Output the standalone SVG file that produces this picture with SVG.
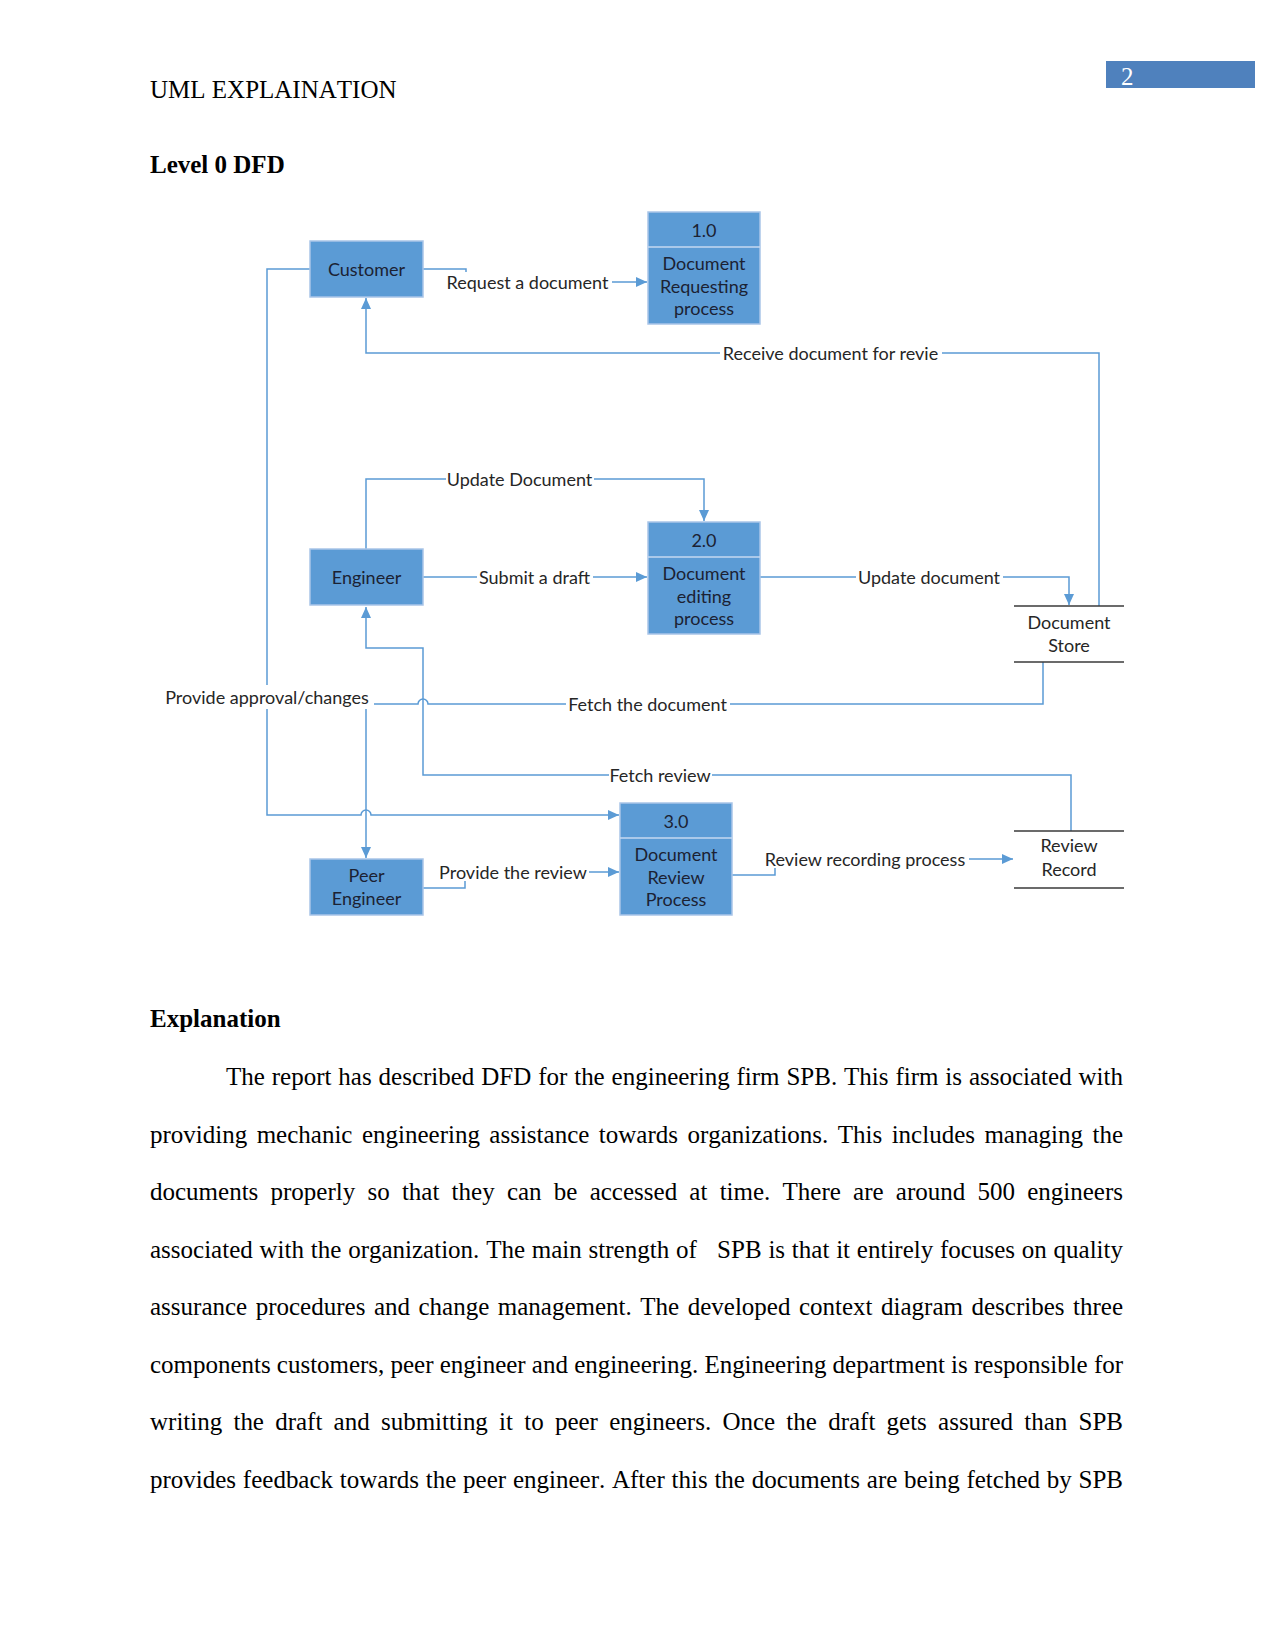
<svg xmlns="http://www.w3.org/2000/svg" width="1275" height="1650" viewBox="0 0 1275 1650">
<style>
.doc{font-family:"Liberation Serif","Times New Roman",serif;font-size:25px;fill:#000;font-kerning:none}
.b{font-weight:bold}
.ent{fill:#5b9bd5;stroke:#a9c5e8;stroke-width:1.5}
.div{stroke:#c5d9f0;stroke-width:1.5}
.bt{font-family:Lato,"Liberation Sans",sans-serif;font-size:18px;fill:#1b2233;text-anchor:middle}
.lbl{font-family:Lato,"Liberation Sans",sans-serif;font-size:18px;fill:#262626;text-anchor:middle}
.con{fill:none;stroke:#5b9bd5;stroke-width:1.5}
.bg{fill:#fff}
.store{stroke:#3a3a3a;stroke-width:1.5}
</style>
<defs>
<marker id="arr" markerUnits="userSpaceOnUse" markerWidth="12" markerHeight="11" refX="11" refY="5" orient="auto">
<path d="M0,0 L11,5 L0,10 z" fill="#5b9bd5"/>
</marker>
</defs>
<rect width="1275" height="1650" fill="#fff"/>

<!-- header -->
<rect x="1106" y="61" width="149" height="27" fill="#4f81bd"/>
<text class="doc" x="1121" y="85" style="fill:#fff">2</text>
<text class="doc" x="150" y="98">UML EXPLAINATION</text>
<text class="doc b" x="150" y="173">Level 0 DFD</text>

<!-- connectors -->
<g id="connectors">
<path class="con" d="M423,269 H466 V282 H647" marker-end="url(#arr)"/>
<path class="con" d="M1099,606 V353 H366 V298" marker-end="url(#arr)"/>
<path class="con" d="M366,549 V479 H704 V521" marker-end="url(#arr)"/>
<path class="con" d="M423,577 H647" marker-end="url(#arr)"/>
<path class="con" d="M760,577 H1069 V605" marker-end="url(#arr)"/>
<path class="con" d="M1043,662 V704 H428 A5,5 0 0 0 418,704 H366 V858" marker-end="url(#arr)"/>
<path class="con" d="M1071,831 V775 H423 V648 H366 V607" marker-end="url(#arr)"/>
<path class="con" d="M310,269 H267 V815 H361 A5,5 0 0 1 371,815 H619" marker-end="url(#arr)"/>
<path class="con" d="M423,888 H465 V872 H619" marker-end="url(#arr)"/>
<path class="con" d="M732,875 H775 V859 H1013" marker-end="url(#arr)"/>

<rect class="bg" x="444" y="272" width="168" height="19"/>
<text class="lbl" x="527.5" y="288.5">Request a document</text>
<rect class="bg" x="720" y="343" width="222" height="19"/>
<text class="lbl" x="830.5" y="359.5">Receive document for revie</text>
<rect class="bg" x="446" y="469" width="148" height="19"/>
<text class="lbl" x="519.5" y="485.5">Update Document</text>
<rect class="bg" x="477" y="567" width="116" height="19"/>
<text class="lbl" x="534.5" y="583.5">Submit a draft</text>
<rect class="bg" x="856" y="567" width="147" height="19"/>
<text class="lbl" x="929" y="583.5">Update document</text>
<rect class="bg" x="160" y="685" width="214" height="24"/>
<text class="lbl" x="267" y="703.5">Provide approval/changes</text>
<rect class="bg" x="566" y="694" width="164" height="19"/>
<text class="lbl" x="647.5" y="710.5">Fetch the document</text>
<rect class="bg" x="609" y="765" width="103" height="19"/>
<text class="lbl" x="660" y="781.5">Fetch review</text>
<rect class="bg" x="438" y="862" width="151" height="19"/>
<text class="lbl" x="513" y="878.5">Provide the review</text>
<rect class="bg" x="762" y="849" width="207" height="19"/>
<text class="lbl" x="865" y="865.5">Review recording process</text>
</g>

<!-- entities -->
<g id="customer">
<rect class="ent" x="310" y="241" width="113" height="56"/>
<text class="bt" x="366.5" y="275.5">Customer</text>
</g>
<g id="engineer">
<rect class="ent" x="310" y="549" width="113" height="56"/>
<text class="bt" x="366.5" y="583.5">Engineer</text>
</g>
<g id="peer-engineer">
<rect class="ent" x="310" y="859" width="113" height="56"/>
<text class="bt" x="366.5" y="881.5">Peer</text>
<text class="bt" x="366.5" y="904.5">Engineer</text>
</g>

<!-- processes -->
<g id="p1">
<rect class="ent" x="648" y="212" width="112" height="112"/>
<line class="div" x1="648" y1="247" x2="760" y2="247"/>
<text class="bt" x="704" y="236.5">1.0</text>
<text class="bt" x="704" y="269.5">Document</text>
<text class="bt" x="704" y="292.5">Requesting</text>
<text class="bt" x="704" y="314.5">process</text>
</g>
<g id="p2">
<rect class="ent" x="648" y="522" width="112" height="112"/>
<line class="div" x1="648" y1="557" x2="760" y2="557"/>
<text class="bt" x="704" y="546.5">2.0</text>
<text class="bt" x="704" y="579.5">Document</text>
<text class="bt" x="704" y="602.5">editing</text>
<text class="bt" x="704" y="624.5">process</text>
</g>
<g id="p3">
<rect class="ent" x="620" y="803" width="112" height="112"/>
<line class="div" x1="620" y1="838" x2="732" y2="838"/>
<text class="bt" x="676" y="827.5">3.0</text>
<text class="bt" x="676" y="860.5">Document</text>
<text class="bt" x="676" y="883.5">Review</text>
<text class="bt" x="676" y="905.5">Process</text>
</g>

<!-- data stores -->
<g id="document-store">
<line class="store" x1="1014" y1="606" x2="1124" y2="606"/>
<line class="store" x1="1014" y1="662" x2="1124" y2="662"/>
<text class="lbl" x="1069" y="628.5">Document</text>
<text class="lbl" x="1069" y="651.5">Store</text>
</g>
<g id="review-record">
<line class="store" x1="1014" y1="831" x2="1124" y2="831"/>
<line class="store" x1="1014" y1="888" x2="1124" y2="888"/>
<text class="lbl" x="1069" y="851.5">Review</text>
<text class="lbl" x="1069" y="875.5">Record</text>
</g>

<!-- explanation -->
<text class="doc b" x="150" y="1027">Explanation</text>
<text class="doc" x="226" y="1085" word-spacing="0.64" textLength="897" lengthAdjust="spacing">The report has described DFD for the engineering firm SPB. This firm is associated with</text>
<text class="doc" x="150" y="1142.5" word-spacing="3.19" textLength="973" lengthAdjust="spacing">providing mechanic engineering assistance towards organizations. This includes managing the</text>
<text class="doc" x="150" y="1200" word-spacing="5.97" textLength="973" lengthAdjust="spacing">documents properly so that they can be accessed at time. There are around 500 engineers</text>
<text class="doc" x="150" y="1257.5" word-spacing="0.54" textLength="973" lengthAdjust="spacing" xml:space="preserve">associated with the organization. The main strength of   SPB is that it entirely focuses on quality</text>
<text class="doc" x="150" y="1315" word-spacing="2.26" textLength="973" lengthAdjust="spacing">assurance procedures and change management. The developed context diagram describes three</text>
<text class="doc" x="150" y="1372.5" word-spacing="0" textLength="973" lengthAdjust="spacing">components customers, peer engineer and engineering. Engineering department is responsible for</text>
<text class="doc" x="150" y="1430" word-spacing="4.97" textLength="973" lengthAdjust="spacing">writing the draft and submitting it to peer engineers. Once the draft gets assured than SPB</text>
<text class="doc" x="150" y="1487.5" word-spacing="0.52" textLength="973" lengthAdjust="spacing">provides feedback towards the peer engineer. After this the documents are being fetched by SPB</text>
</svg>
